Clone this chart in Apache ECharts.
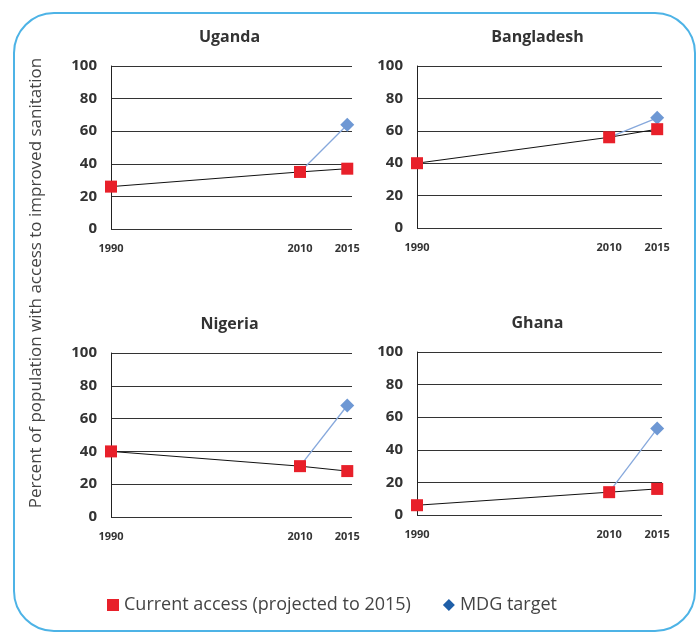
<!DOCTYPE html>
<html>
<head>
<meta charset="utf-8">
<script src="https://cdn.jsdelivr.net/npm/echarts@6/dist/echarts.min.js"></script>
<style>
  html, body { margin: 0; padding: 0; background: #fff; }
  #chart { width: 700px; height: 633px; }
</style>
</head>
<body>
<div id="chart"></div>
<script>
// data
var countries = ["Uganda", "Bangladesh", "Nigeria", "Ghana"];
var years = [1990, 2010, 2015];
var xTickLabels = ["1990", "2010", "2015"];
var currentAccess = {
  Uganda: [26, 35, 37],
  Bangladesh: [40, 56, 61],
  Nigeria: [40, 31, 28],
  Ghana: [6, 14, 16]
};
var mdgTarget = {
  Uganda: 64,
  Bangladesh: 68,
  Nigeria: 68,
  Ghana: 53
};
var yTicks = [0, 20, 40, 60, 80, 100];

var currentName = "Current access (projected to 2015)";
var mdgName = "MDG target";

var grids = [
  { left: 111, top: 66, width: 241, height: 163 },
  { left: 417, top: 66, width: 245, height: 162 },
  { left: 111, top: 353, width: 241, height: 164 },
  { left: 417, top: 352, width: 245, height: 163 }
];

var font = "'Open Sans', 'DejaVu Sans', sans-serif";

var chart = echarts.init(document.getElementById("chart"));

var titles = [], xAxes = [], yAxes = [], series = [];

countries.forEach(function (c, i) {
  var g = grids[i];
  titles.push({
    text: c,
    left: g.left + g.width / 2 - 7,
    top: g.top - 42,
    textAlign: "center",
    textStyle: { fontFamily: font, fontSize: 16, fontWeight: "bold", color: "#333" }
  });
  xAxes.push({
    type: "value",
    gridIndex: i,
    min: 1990,
    max: 2015.5,
    interval: 5,
    axisLine: { show: false },
    axisTick: { show: false },
    splitLine: { show: false },
    axisLabel: {
      showMaxLabel: false,
      margin: 14,
      fontFamily: font,
      fontSize: 11,
      fontWeight: "bold",
      color: "#333",
      formatter: function (v) {
        var k = years.indexOf(v);
        return k >= 0 ? xTickLabels[k] : "";
      }
    }
  });
  yAxes.push({
    type: "value",
    gridIndex: i,
    min: yTicks[0],
    max: yTicks[yTicks.length - 1],
    interval: 20,
    axisLine: { show: true, lineStyle: { color: "#222", width: 1 } },
    axisTick: { show: false },
    splitLine: { show: true, lineStyle: { color: "#333", width: 1 } },
    axisLabel: {
      margin: 14,
      fontFamily: font,
      fontSize: 15,
      fontWeight: "bold",
      color: "#333"
    }
  });

  var cur = currentAccess[c];
  series.push({
    name: mdgName,
    type: "line",
    xAxisIndex: i,
    yAxisIndex: i,
    z: 2,
    data: [
      { value: [years[1], cur[1]], symbol: "none" },
      { value: [years[2], mdgTarget[c]] }
    ],
    symbol: "diamond",
    symbolSize: 14,
    itemStyle: { color: "#6E98D4" },
    lineStyle: { color: "#86A8DC", width: 1.3 }
  });
  series.push({
    name: currentName,
    type: "line",
    xAxisIndex: i,
    yAxisIndex: i,
    z: 3,
    data: years.map(function (y, k) { return [y, cur[k]]; }),
    symbol: "rect",
    symbolSize: 12,
    itemStyle: { color: "#E8202A" },
    lineStyle: { color: "#111", width: 1 }
  });
});

chart.setOption({
  animation: false,
  backgroundColor: "#fff",
  title: titles,
  grid: grids,
  xAxis: xAxes,
  yAxis: yAxes,
  legend: {
    left: 102,
    top: 591,
    itemWidth: 12,
    itemHeight: 12,
    itemGap: 32,
    textStyle: { fontFamily: font, fontSize: 18, color: "#444" },
    data: [
      { name: currentName, icon: "rect", itemStyle: { color: "#E8202A" } },
      { name: mdgName, icon: "diamond", itemStyle: { color: "#1F5FA8" } }
    ]
  },
  graphic: [
    {
      type: "rect",
      shape: { x: 14, y: 13, width: 681, height: 618, r: 40 },
      style: { fill: "none", stroke: "#4DB3E6", lineWidth: 2 },
      silent: true
    },
    {
      type: "text",
      x: 36,
      y: 283,
      rotation: Math.PI / 2,
      style: {
        text: "Percent of population with access to improved sanitation",
        fontFamily: font,
        fontSize: 17,
        fill: "#444",
        textAlign: "center",
        textVerticalAlign: "middle"
      }
    }
  ],
  series: series
});
</script>
</body>
</html>
